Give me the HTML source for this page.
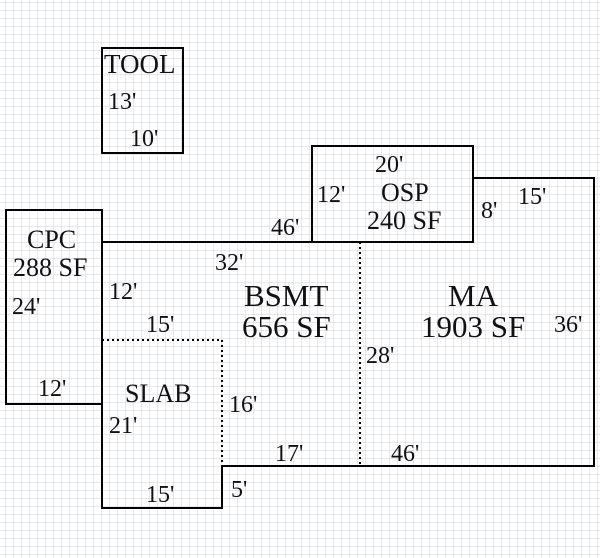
<!DOCTYPE html>
<html><head><style>
html,body{margin:0;padding:0;background:#fff}
svg{display:block}
text{font-family:"Liberation Serif",serif;fill:#111}
</style></head><body>
<svg width="600" height="558" xmlns="http://www.w3.org/2000/svg">
<defs>
<pattern id="g" x="5" y="2" width="8" height="8" patternUnits="userSpaceOnUse">
<path d="M0 0H8M0 0V8" stroke="#cfcfe0" stroke-width="1" fill="none"/>
</pattern>
</defs>
<rect width="600" height="558" fill="url(#g)"/>
<g stroke="#000" stroke-width="2" fill="none">
<rect x="102" y="48" width="81" height="105"/>
<rect x="6" y="210" width="96" height="194"/>
<rect x="312" y="146" width="161" height="96"/>
<path d="M473 178H594V466H222V508H102V242H312"/>
</g>
<g stroke="#000" stroke-width="2" fill="none" stroke-dasharray="2,3">
<path d="M102 340H222V466"/>
<path d="M360 242V466"/>
</g>
<g font-size="24">
<text x="104" y="73" font-size="27">TOOL</text>
<text x="108" y="109">13'</text>
<text x="130" y="146">10'</text>
<text x="27" y="248" font-size="26">CPC</text>
<text x="13" y="276" font-size="26">288 SF</text>
<text x="12" y="314">24'</text>
<text x="38" y="396">12'</text>
<text x="375" y="172">20'</text>
<text x="317" y="202">12'</text>
<text x="381" y="201" font-size="26">OSP</text>
<text x="367" y="229" font-size="26">240 SF</text>
<text x="481" y="218">8'</text>
<text x="518" y="204">15'</text>
<text x="271" y="235">46'</text>
<text x="215" y="270">32'</text>
<text x="109" y="299">12'</text>
<text x="244" y="306" font-size="31">BSMT</text>
<text x="242" y="337" font-size="31">656 SF</text>
<text x="448" y="306" font-size="31">MA</text>
<text x="421" y="337" font-size="31">1903 SF</text>
<text x="554" y="332">36'</text>
<text x="146" y="332">15'</text>
<text x="366" y="363">28'</text>
<text x="125" y="402" font-size="26">SLAB</text>
<text x="229" y="412">16'</text>
<text x="109" y="433">21'</text>
<text x="275" y="461">17'</text>
<text x="391" y="461">46'</text>
<text x="146" y="502">15'</text>
<text x="231" y="497">5'</text>
</g>
</svg>
</body></html>
